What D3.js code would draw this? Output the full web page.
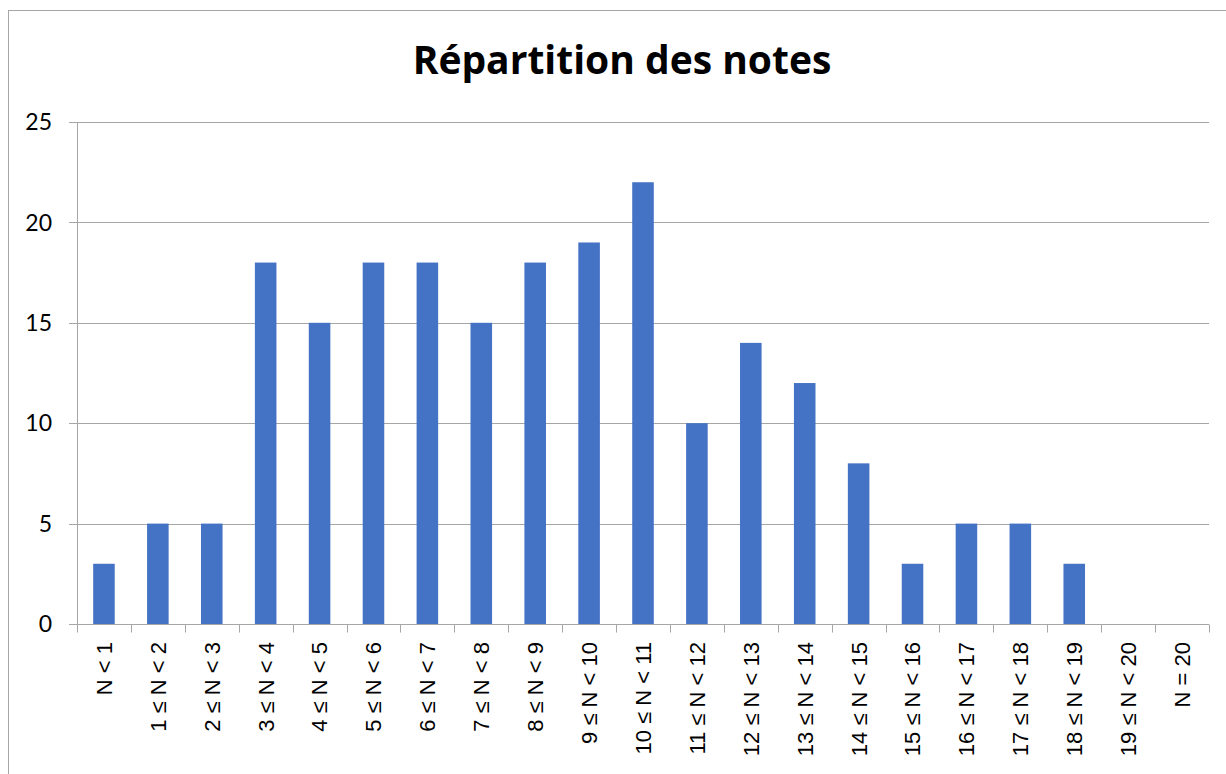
<!DOCTYPE html>
<html>
<head>
<meta charset="utf-8">
<script src="https://cdn.jsdelivr.net/npm/d3@7"></script>
<style>
  body { margin: 0; background: #fff; }
  svg { display: block; }
</style>
</head>
<body>
<div id="chart"></div>
<script>
// categories and counts
var categories = ["N < 1", "1 ≤ N < 2", "2 ≤ N < 3", "3 ≤ N < 4", "4 ≤ N < 5", "5 ≤ N < 6",
  "6 ≤ N < 7", "7 ≤ N < 8", "8 ≤ N < 9", "9 ≤ N < 10", "10 ≤ N < 11", "11 ≤ N < 12",
  "12 ≤ N < 13", "13 ≤ N < 14", "14 ≤ N < 15", "15 ≤ N < 16", "16 ≤ N < 17", "17 ≤ N < 18",
  "18 ≤ N < 19", "19 ≤ N < 20", "N = 20"];
var counts = [3, 5, 5, 18, 15, 18, 18, 15, 18, 19, 22, 10, 14, 12, 8, 3, 5, 5, 3, 0, 0];
var yTicks = [0, 5, 10, 15, 20, 25];
var title = "Répartition des notes";

var width = 1226, height = 774;
var margin = { left: 77, right: 17, top: 122, bottom: 150 };

var svg = d3.select("#chart").append("svg")
  .attr("width", width)
  .attr("height", height);

// outer frame
svg.append("rect")
  .attr("x", 8.5).attr("y", 10.5)
  .attr("width", width).attr("height", height)
  .attr("fill", "none")
  .attr("stroke", "#a6a6a6")
  .attr("stroke-width", 1);

var x = d3.scaleBand()
  .domain(categories)
  .range([margin.left, width - margin.right])
  .paddingInner(0.6)
  .paddingOuter(0.3);

var xEdges = d3.scaleBand().domain(categories).range([margin.left, width - margin.right]);

var y = d3.scaleLinear()
  .domain([0, 25])
  .range([height - margin.bottom, margin.top]);

// gridlines
svg.append("g")
  .selectAll("line")
  .data(yTicks)
  .enter().append("line")
  .attr("x1", margin.left - 8)
  .attr("x2", width - margin.right)
  .attr("y1", function(d) { return Math.round(y(d)) + 0.5; })
  .attr("y2", function(d) { return Math.round(y(d)) + 0.5; })
  .attr("stroke", "#a6a6a6")
  .attr("stroke-width", 1);

// y labels
svg.append("g")
  .selectAll("text")
  .data(yTicks)
  .enter().append("text")
  .attr("x", margin.left - 25)
  .attr("y", function(d) { return y(d); })
  .attr("dy", "0.36em")
  .attr("text-anchor", "end")
  .attr("font-family", "Lato, sans-serif")
  .attr("font-size", 23)
  .attr("fill", "#000")
  .text(function(d) { return d; });

// bars
svg.append("g")
  .selectAll("rect")
  .data(counts)
  .enter().append("rect")
  .attr("x", function(d, i) { return x(categories[i]); })
  .attr("y", function(d) { return y(d); })
  .attr("width", x.bandwidth())
  .attr("height", function(d) { return y(0) - y(d); })
  .attr("fill", "#4472c4");

// y axis line
svg.append("line")
  .attr("x1", margin.left + 0.5).attr("x2", margin.left + 0.5)
  .attr("y1", y(25)).attr("y2", y(0))
  .attr("stroke", "#a6a6a6");

// x axis line with ticks between categories
var x0 = Math.round(y(0)) + 0.5;
svg.append("line")
  .attr("x1", margin.left - 8).attr("x2", width - margin.right)
  .attr("y1", x0).attr("y2", x0)
  .attr("stroke", "#a6a6a6");

var edges = categories.map(function(c) { return xEdges(c); });
edges.push(width - margin.right);
svg.append("g")
  .selectAll("line")
  .data(edges)
  .enter().append("line")
  .attr("x1", function(d) { return Math.round(d) + 0.5; })
  .attr("x2", function(d) { return Math.round(d) + 0.5; })
  .attr("y1", x0).attr("y2", x0 + 8)
  .attr("stroke", "#a6a6a6");

// x labels, rotated
svg.append("g")
  .selectAll("text")
  .data(categories)
  .enter().append("text")
  .attr("transform", function(d) {
    return "translate(" + (xEdges(d) + xEdges.bandwidth() / 2) + "," + (y(0) + 18) + ") rotate(-90)";
  })
  .attr("dy", "0.36em")
  .attr("text-anchor", "end")
  .attr("font-family", "'Liberation Sans', Arial, sans-serif")
  .attr("font-size", 22)
  .attr("fill", "#000")
  .text(function(d) { return d; });

// title
svg.append("text")
  .attr("x", 622)
  .attr("y", 74)
  .attr("text-anchor", "middle")
  .attr("font-family", "'Open Sans', sans-serif")
  .attr("font-weight", "bold")
  .attr("font-size", 39)
  .attr("fill", "#000")
  .text(title);
</script>
</body>
</html>
